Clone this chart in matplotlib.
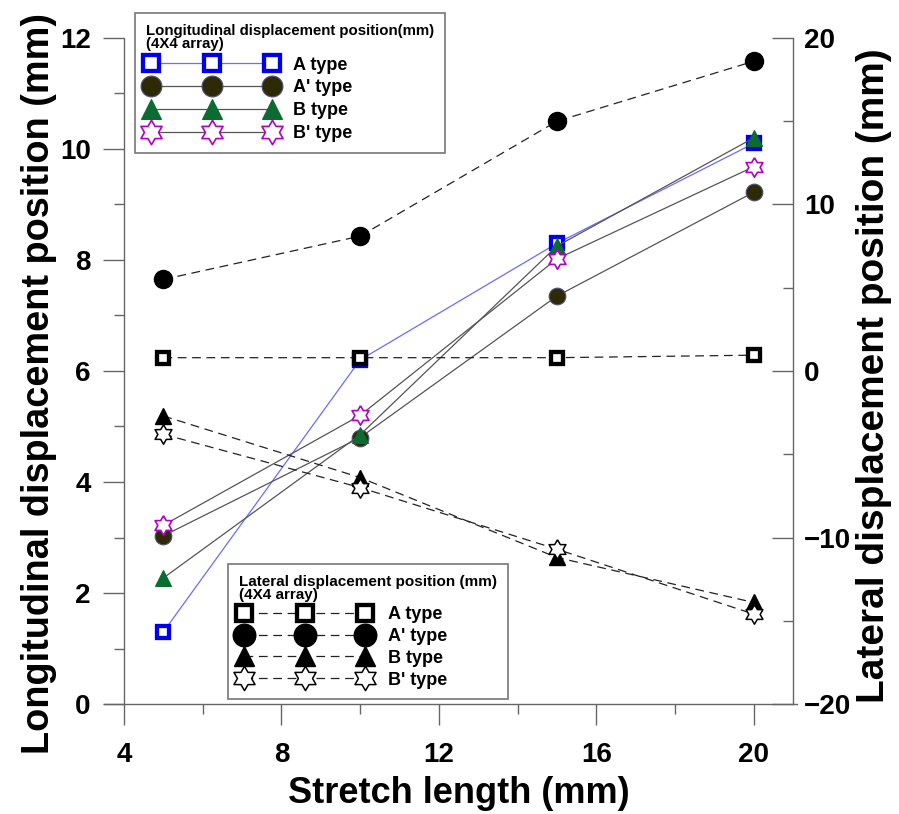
import numpy as np
import matplotlib
matplotlib.use('Agg')
import matplotlib.pyplot as plt
from matplotlib.ticker import MultipleLocator

# Stretch lengths (mm) on the x axis
stretch_mm = [5, 10, 15, 20]

# Longitudinal displacement position (mm), left axis
long_a = [1.30, 6.20, 8.30, 10.10]
long_a_prime = [3.03, 4.80, 7.35, 9.22]
long_b = [2.27, 4.85, 8.25, 10.20]
long_b_prime = [3.22, 5.20, 8.02, 9.68]

# Lateral displacement position (mm), right axis
lat_a = [0.8, 0.8, 0.8, 0.95]
lat_a_prime = [5.5, 8.1, 15.0, 18.6]
lat_b = [-2.7, -6.4, -11.2, -13.9]
lat_b_prime = [-3.8, -7.0, -10.7, -14.6]

type_labels = ['A type', "A' type", 'B type', "B' type"]

GRAY = '#666666'


def hexagram(inner=0.58):
    # six pointed star outline, point up, closed
    ang = np.pi / 2 + np.arange(12) * np.pi / 6
    rad = np.where(np.arange(12) % 2 == 0, 1.0, inner)
    verts = list(zip(rad * np.cos(ang), rad * np.sin(ang)))
    verts.append(verts[0])
    return verts


def make_legend(ax, handles, title, anchor, title_size, spacing, handlelength, textpad):
    leg = ax.legend(handles=handles, labels=type_labels, loc='upper left',
                    bbox_to_anchor=anchor, bbox_transform=ax.figure.transFigure,
                    borderaxespad=0, title=title, alignment='left', numpoints=3,
                    handlelength=handlelength, handletextpad=textpad, markerscale=1.25,
                    prop=dict(weight='bold', size=13),
                    title_fontproperties=dict(weight='bold', size=title_size),
                    borderpad=0.6, labelspacing=spacing, fancybox=False,
                    edgecolor='#777777', framealpha=1)
    leg.get_frame().set_linewidth(1.2)
    leg.get_title().set_linespacing(0.9)
    return leg


def plot_displacement(output='out.png'):
    plt.rcParams['font.family'] = ['Liberation Sans', 'DejaVu Sans']
    plt.rcParams['font.weight'] = 'bold'

    fig = plt.figure(figsize=(8.99, 8.14), dpi=100)
    ax = fig.add_axes([124 / 899, 110 / 814, 669 / 899, 666 / 814])
    ax2 = ax.twinx()
    star = hexagram()

    # Longitudinal series, solid lines
    left_lines = []
    left_lines += ax.plot(stretch_mm, long_a, color='#6b6bff', lw=0.9, marker='s', ms=9,
                          mfc='white', mec='#0000ee', mew=3.1)
    left_lines += ax.plot(stretch_mm, long_a_prime, color='#555555', lw=0.9, marker='o', ms=12,
                          mfc='#2e2a05', mec='#50507a', mew=0.8)
    left_lines += ax.plot(stretch_mm, long_b, color='#555555', lw=0.9, marker='^', ms=12,
                          mfc='#0b6b30', mec='#0b6b30', mew=0.8)
    left_lines += ax.plot(stretch_mm, long_b_prime, color='#555555', lw=0.9, marker=star, ms=14,
                          mfc='white', mec='#b000c8', mew=1.2)

    # Lateral series, dashed lines
    dash = (0, (7, 4.5))
    right_lines = []
    right_lines += ax2.plot(stretch_mm, lat_a, color='#222222', lw=0.9, ls=dash, marker='s', ms=9,
                            mfc='white', mec='black', mew=3.1)
    right_lines += ax2.plot(stretch_mm, lat_a_prime, color='#222222', lw=0.9, ls=dash, marker='o',
                            ms=13, mfc='black', mec='black')
    right_lines += ax2.plot(stretch_mm, lat_b, color='#222222', lw=0.9, ls=dash, marker='^',
                            ms=11, mfc='black', mec='black')
    right_lines += ax2.plot(stretch_mm, lat_b_prime, color='#222222', lw=0.9, ls=dash, marker=star,
                            ms=14, mfc='white', mec='black', mew=1.1)

    # Axes limits and ticks
    ax.set_xlim(4, 21)
    ax.set_ylim(0, 12)
    ax2.set_ylim(-20, 20)
    ax.xaxis.set_major_locator(MultipleLocator(4))
    ax.xaxis.set_minor_locator(MultipleLocator(2))
    ax.yaxis.set_major_locator(MultipleLocator(2))
    ax.yaxis.set_minor_locator(MultipleLocator(1))
    ax2.yaxis.set_major_locator(MultipleLocator(10))
    ax2.yaxis.set_minor_locator(MultipleLocator(5))

    ax.tick_params(axis='both', which='major', direction='out', length=15, width=1,
                   color=GRAY, labelsize=20)
    ax.tick_params(axis='both', which='minor', direction='out', length=7.5, width=1, color=GRAY)
    ax.tick_params(axis='y', which='major', pad=9)
    ax.tick_params(axis='x', which='major', pad=12)
    ax2.tick_params(axis='y', which='major', direction='in', length=15, width=1,
                    color=GRAY, labelsize=20, pad=8)
    ax2.tick_params(axis='y', which='minor', direction='in', length=7.5, width=1, color=GRAY)

    # Spines: no top, gray lines
    for a in (ax, ax2):
        a.spines['top'].set_visible(False)
        for s in a.spines.values():
            s.set_color(GRAY)
            s.set_linewidth(1)
    ax.spines['right'].set_visible(False)
    ax2.spines['left'].set_visible(False)
    ax2.spines['bottom'].set_visible(False)
    ax.spines['bottom'].set_bounds(3.5, 21.1)

    # Axis labels
    ax.set_xlabel('Stretch length (mm)', fontsize=26, fontweight='bold', labelpad=6)
    fig.text(39 / 899, 1 - 383 / 814, 'Longitudinal displacement position (mm)', rotation=90,
             ha='center', va='center', fontsize=27.3, fontweight='bold')
    fig.text(874 / 899, 1 - 376 / 814, 'Lateral displacement position (mm)', rotation=90,
             ha='center', va='center', fontsize=28, fontweight='bold')

    # Legends
    leg1 = make_legend(ax2, left_lines, 'Longitudinal displacement position(mm)\n(4X4 array)',
                       (135 / 899, 1 - 13 / 814), 10.8, 0.32, 7.3, 0.85)
    ax2.add_artist(leg1)
    make_legend(ax2, right_lines, 'Lateral displacement position (mm)\n(4X4 array)',
                (228 / 899, 1 - 564 / 814), 11, 0.26, 7.3, 0.95)

    fig.savefig(output, dpi=100)


if __name__ == '__main__':
    plot_displacement()
